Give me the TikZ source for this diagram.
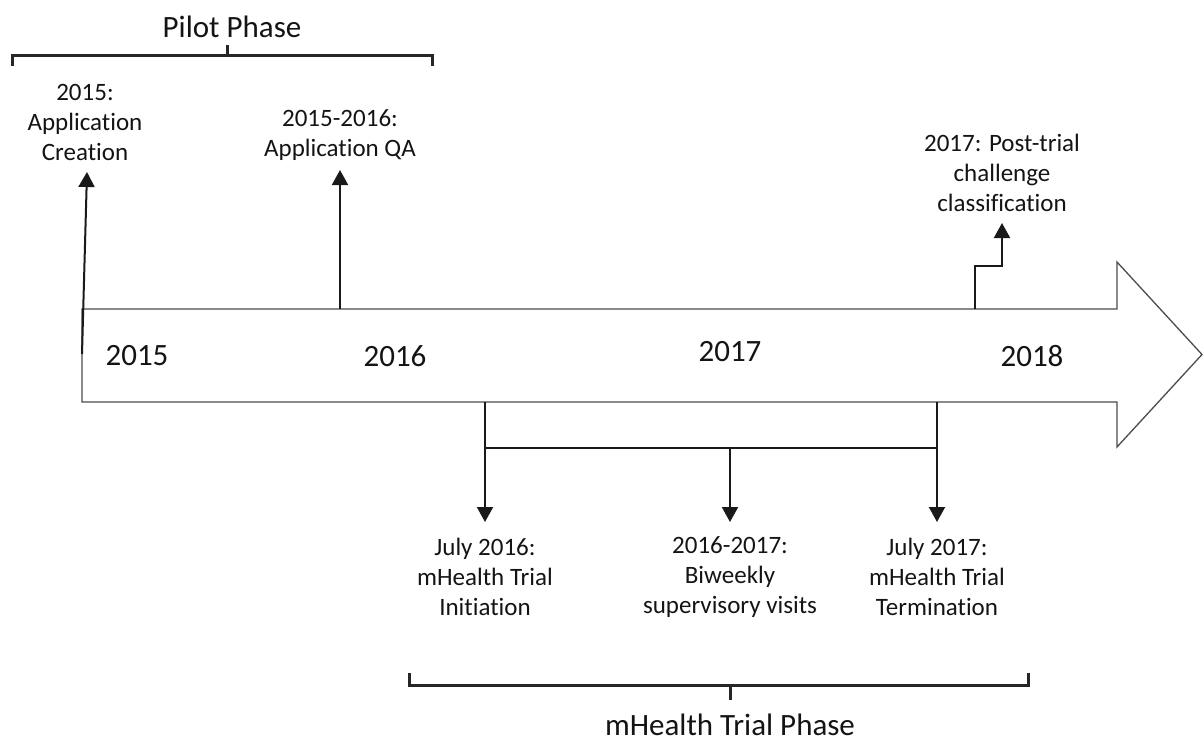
\documentclass[tikz,border=0pt]{standalone}
\usepackage{fontspec}
\setmainfont{Carlito}[Ligatures=NoCommon]
\usetikzlibrary{arrows.meta}
\begin{document}
\begin{tikzpicture}[x=1pt,y=-1pt,
  lbl/.style={align=center,font=\fontsize{25}{30}\selectfont,text=black!92,inner sep=0pt},
  yr/.style={font=\fontsize{31}{36}\selectfont,text=black!92,inner sep=0pt},
  conn/.style={line width=2pt,draw=black!90,-{Triangle[width=16pt,length=15pt]}},
  plain/.style={line width=2pt,draw=black!90},
  brk/.style={line width=3pt,draw=black!85},
  outline/.style={draw=black!70,line width=1.3pt}]
\useasboundingbox (0,0) rectangle (1203,742);

% main timeline arrow
\draw[outline,fill=white] (82,309) -- (1117,309) -- (1117,262) -- (1202,354.5)
  -- (1117,447) -- (1117,402) -- (82,402) -- cycle;

% year labels
\node[yr] (y15) at (137,356) {2015};
\node[yr] (y16) at (395,356) {2016};
\node[yr] (y17) at (730,352) {2017};
\node[yr] (y18) at (1032,356) {2018};

% phase brackets
\node[yr] (pilot) at (232,27) {Pilot Phase};
\coordinate (pl) at (12,55); \coordinate (pr) at (432,55); \coordinate (pm) at (227,55);
\draw[brk] ([yshift=-11pt]pl) -- (pl) -- (pr) -- ([yshift=-11pt]pr);
\draw[brk] (pm) -- ([yshift=10pt]pm);

\node[yr] (trial) at (730,725) {mHealth Trial Phase};
\coordinate (tl) at (409,685); \coordinate (tr) at (1028,685); \coordinate (tm) at (730,685);
\draw[brk] ([yshift=12pt]tl) -- (tl) -- (tr) -- ([yshift=12pt]tr);
\draw[brk] (tm) -- ([yshift=-15pt]tm);

% upper event labels
\node[lbl] (crea) at (85,122) {2015:\\Application\\Creation};
\node[lbl] (qa) at (340,135) {2015-2016:\\Application QA};
\node[lbl] (post) at (1002,173) {2017: Post-trial\\challenge\\classification};

% lower event labels
\node[lbl] (init) at (485,577) {July 2016:\\mHealth Trial\\Initiation};
\node[lbl] (biw) at (730,577) {2016-2017:\\Biweekly\\supervisory visits};
\node[lbl] (term) at (937,577) {July 2017:\\mHealth Trial\\Termination};

% upper connectors
\coordinate (creaS) at (82,354); \coordinate (creaT) at (87,172);
\draw[conn] (creaS) -- (creaT);
\coordinate (qaS) at (340,309); \coordinate (qaT) at (340,170);
\draw[conn] (qaS) -- (qaT);
\coordinate (postS) at (975,309); \coordinate (postM) at (1002,266); \coordinate (postT) at (1002,223);
\draw[conn] (postS) |- (postM) -- (postT);

% lower connectors
\coordinate (initS) at (485,402); \coordinate (initT) at (485,522);
\coordinate (termS) at (937,402); \coordinate (termT) at (937,522);
\coordinate (hL) at (485,448); \coordinate (hR) at (937,448);
\coordinate (hM) at (730,448); \coordinate (biwT) at (730,522);
\draw[conn] (initS) -- (initT);
\draw[conn] (termS) -- (termT);
\draw[plain] (hL) -- (hR);
\draw[conn] (hM) -- (biwT);
\end{tikzpicture}
\end{document}
